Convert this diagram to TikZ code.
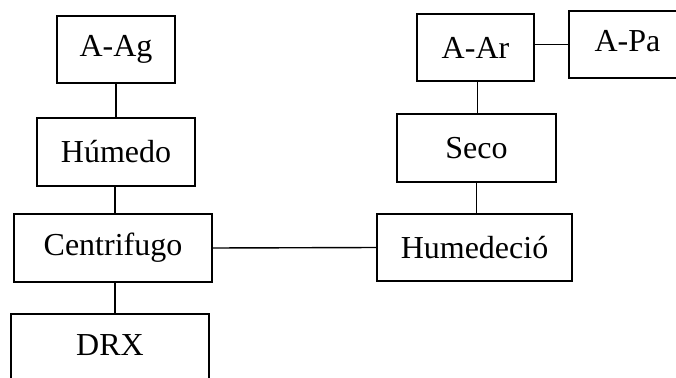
\documentclass[tikz,border=0pt]{standalone}
\usepackage{fontspec}
\setmainfont{Liberation Serif}
\begin{document}
\begin{tikzpicture}[x=1pt,y=-1pt,
  box/.style={draw,line width=1.4pt,inner sep=0pt,outer sep=0pt,
    font=\fontsize{32}{38}\selectfont},
  link/.style={line width=1.4pt}]
\useasboundingbox (0,0) rectangle (676,377);
\clip (0,0) rectangle (676,377);
% left branch
\node[box,minimum width=118pt,minimum height=67pt] (aag) at (116,49.5) {A-Ag};
\node[box,minimum width=158pt,minimum height=68pt] (hum) at (116,152) {Húmedo};
\node[box,minimum width=198pt,minimum height=68pt] (cen) at (113,248) {Centrifugo};
\node[box,minimum width=198pt,minimum height=68pt,text depth=6pt] (drx) at (110,348) {DRX};
% right branch
\node[box,minimum width=117pt,minimum height=67pt] (aar) at (475.5,47.5) {A-Ar};
\node[box,minimum width=117pt,minimum height=67pt,text depth=8pt] (apa) at (627.5,44.5) {A-Pa};
\node[box,minimum width=159pt,minimum height=68pt] (seco) at (476.5,148) {Seco};
\node[box,minimum width=195pt,minimum height=67pt] (hmd) at (474.5,247.5) {Humedeció};
% connectors
\draw[link] (aag.south) -- (hum.north);
\draw[link] ([xshift=-1pt]hum.south) -- ([xshift=-1pt]hum.south |- cen.north);
\draw[link] ([xshift=2pt]cen.south) -- ([xshift=2pt]cen.south |- drx.north);
\draw[link] (cen.east) -- (hmd.west);
\draw[link] ([xshift=2pt]aar.south) -- ([xshift=2pt]aar.south |- seco.north);
\draw[link] (seco.south) -- (seco.south |- hmd.north);
\draw[link] (aar.east |- apa.west) -- (apa.west);
\end{tikzpicture}
\end{document}
